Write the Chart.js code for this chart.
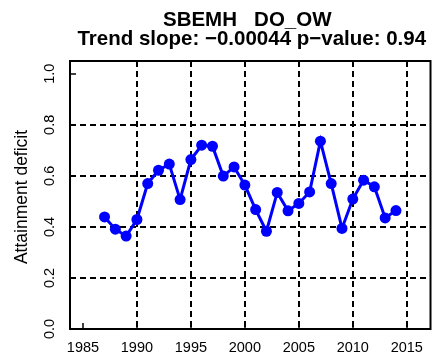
<!DOCTYPE html>
<html>
<head>
<meta charset="utf-8">
<title>SBEMH DO_OW</title>
<script src="https://cdn.jsdelivr.net/npm/chart.js@4/dist/chart.umd.min.js"></script>
<style>
  html, body { margin: 0; padding: 0; background: #ffffff; }
  canvas { display: block; }
</style>
</head>
<body>
<canvas id="chart" width="436" height="358"></canvas>
<script>
// Annual attainment deficit for station SBEMH, dissolved oxygen (DO_OW)
const years = [1987, 1988, 1989, 1990, 1991, 1992, 1993, 1994, 1995, 1996,
               1997, 1998, 1999, 2000, 2001, 2002, 2003, 2004, 2005, 2006,
               2007, 2008, 2009, 2010, 2011, 2012, 2013, 2014];
const deficit = [0.439, 0.391, 0.364, 0.429, 0.570, 0.622, 0.646, 0.507, 0.664, 0.720,
                 0.716, 0.599, 0.635, 0.564, 0.468, 0.383, 0.535, 0.463, 0.492, 0.537,
                 0.736, 0.570, 0.394, 0.509, 0.583, 0.557, 0.435, 0.464];

const xTicks = [1985, 1990, 1995, 2000, 2005, 2010, 2015];
const yTicks = [0.0, 0.2, 0.4, 0.6, 0.8, 1.0];
const yTickLabels = ['0.0', '0.2', '0.4', '0.6', '0.8', '1.0'];
const xGrid = [1990, 1995, 2000, 2005, 2010, 2015];
const yGrid = [0.2, 0.4, 0.6, 0.8];

const titleLines = ['SBEMH   DO_OW', 'Trend slope: \u22120.00044 p\u2212value: 0.94'];
const yAxisTitle = 'Attainment deficit';

const FONT = '"Liberation Sans", Arial, Helvetica, sans-serif';

// Base-graphics style frame: dashed reference grid, box, inward ticks, labels
const framePlugin = {
  id: 'frame',
  beforeDatasetsDraw(chart) {
    const { ctx, chartArea: a, scales: { x, y } } = chart;
    ctx.save();
    ctx.strokeStyle = '#000';
    ctx.lineWidth = 2;
    ctx.setLineDash([6, 4]);
    xGrid.forEach(v => {
      const px = Math.round(x.getPixelForValue(v));
      ctx.beginPath(); ctx.moveTo(px, a.top); ctx.lineTo(px, a.bottom); ctx.stroke();
    });
    yGrid.forEach(v => {
      const py = Math.round(y.getPixelForValue(v));
      ctx.beginPath(); ctx.moveTo(a.left, py); ctx.lineTo(a.right, py); ctx.stroke();
    });
    ctx.restore();
  },
  afterDraw(chart) {
    const { ctx, chartArea: a, scales: { x, y } } = chart;
    ctx.save();
    ctx.strokeStyle = '#000';
    ctx.lineWidth = 2;
    ctx.setLineDash([]);
    ctx.strokeRect(a.left, a.top, a.right - a.left, a.bottom - a.top);

    // inward tick marks
    ctx.lineWidth = 1.5;
    xTicks.forEach(v => {
      const px = Math.round(x.getPixelForValue(v));
      ctx.beginPath(); ctx.moveTo(px, a.bottom); ctx.lineTo(px, a.bottom - 6); ctx.stroke();
    });
    yTicks.forEach(v => {
      const py = Math.round(y.getPixelForValue(v));
      ctx.beginPath(); ctx.moveTo(a.left, py); ctx.lineTo(a.left + 6, py); ctx.stroke();
    });

    // tick labels
    ctx.fillStyle = '#000';
    ctx.font = '14.5px ' + FONT;
    ctx.textAlign = 'center';
    ctx.textBaseline = 'middle';
    xTicks.forEach(v => {
      ctx.fillText(String(v), x.getPixelForValue(v), a.bottom + 19);
    });
    yTicks.forEach((v, i) => {
      ctx.save();
      ctx.translate(a.left - 20, y.getPixelForValue(v));
      ctx.rotate(-Math.PI / 2);
      ctx.fillText(yTickLabels[i], 0, 0);
      ctx.restore();
    });

    // axis title
    ctx.font = '17.5px ' + FONT;
    ctx.save();
    ctx.translate(22, (a.top + a.bottom) / 2 + 2);
    ctx.rotate(-Math.PI / 2);
    ctx.fillText(yAxisTitle, 0, 0);
    ctx.restore();

    // main title
    ctx.font = 'bold 20.5px ' + FONT;
    ctx.textBaseline = 'alphabetic';
    const cx = (a.left + a.right) / 2;
    ctx.fillText(titleLines[0], cx - 3, 26);
    ctx.fillText(titleLines[1], cx + 1.5, 45);
    ctx.restore();
  }
};

new Chart(document.getElementById('chart'), {
  type: 'line',
  data: {
    datasets: [{
      data: years.map((yr, i) => ({ x: yr, y: deficit[i] })),
      borderColor: '#0000ff',
      backgroundColor: '#0000ff',
      borderWidth: 3,
      pointRadius: 5.5,
      pointBorderWidth: 0,
      pointBackgroundColor: '#0000ff',
      tension: 0,
      fill: false
    }]
  },
  options: {
    responsive: false,
    animation: false,
    devicePixelRatio: 1,
    layout: { padding: { left: 70, top: 61, right: 5, bottom: 29 } },
    plugins: {
      legend: { display: false },
      title: { display: false },
      tooltip: { enabled: false }
    },
    scales: {
      x: { type: 'linear', min: 1983.8, max: 2017.2, display: false },
      y: { type: 'linear', min: 0, max: 1.05, display: false }
    }
  },
  plugins: [framePlugin]
});
</script>
</body>
</html>
